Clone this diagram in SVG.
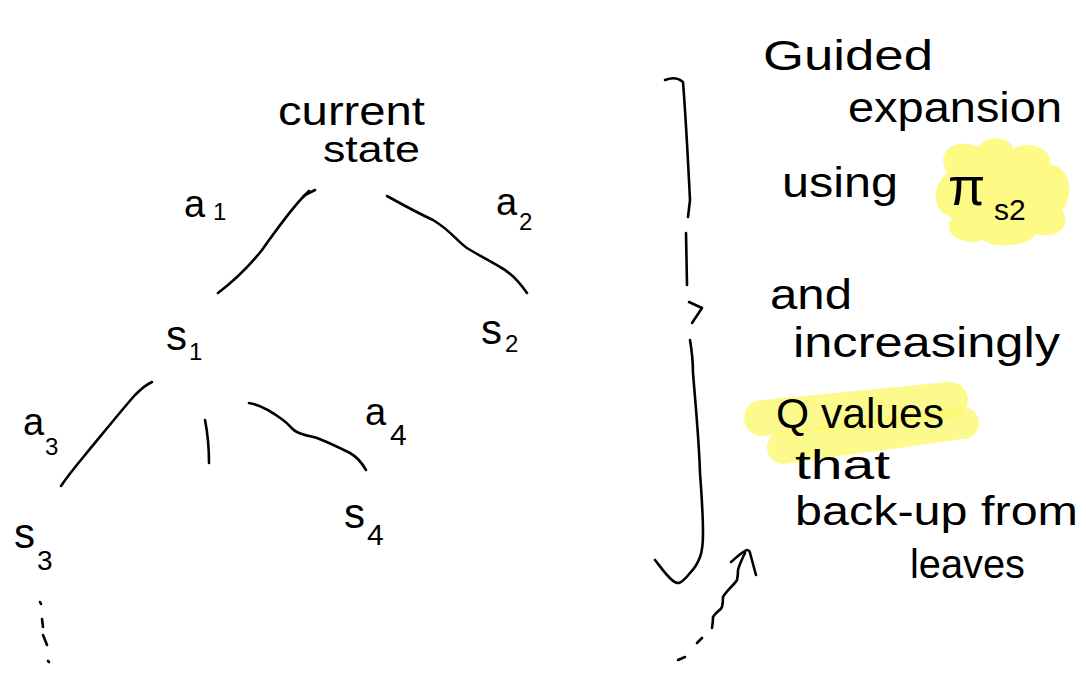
<svg xmlns="http://www.w3.org/2000/svg" width="1086" height="677" viewBox="0 0 1086 677">
  <style>
    .ink { fill: none; stroke: #000; stroke-width: 2.6; stroke-linecap: round; stroke-linejoin: round; }
    .t { font-family: "Liberation Sans", "Open Sans", sans-serif; fill: #000; font-weight: 400; }
    .big { font-size: 42px; }
    .lbl { font-size: 38px; }
    .sub { font-size: 24px; }
    .hl { fill: none; stroke: #fdf970; stroke-opacity: 0.8; stroke-linecap: round; }
  </style>
  <rect width="1086" height="677" fill="#fff"/>

  <!-- highlights behind the notes -->
  <g id="highlights">
    <path d="M948,172 C934,156 952,136 978,147 C988,134 1010,136 1013,149 C1027,141 1052,146 1050,164 C1072,168 1074,196 1062,210 C1073,226 1057,240 1036,234 C1028,247 994,249 983,240 C962,247 940,233 952,218 C932,211 930,188 948,172 Z" fill="#fdf970" fill-opacity="0.85"/>
    <path class="hl" d="M762,418 L950,400" stroke-width="36"/>
    <path class="hl" d="M783,448 L963,423" stroke-width="32"/>
  </g>

  <!-- tree edges and annotation strokes -->
  <g id="connectors">
    <path class="ink" d="M218,293 C235,280 250,265 262,250 C275,232 290,210 305,195 L315,190"/>
    <path class="ink" d="M303,197 L309,191"/>
    <path class="ink" d="M387,196 C405,206 420,214 433,220 C450,230 458,242 467,248 C480,256 492,262 500,267 C510,272 518,280 527,293"/>
    <path class="ink" d="M152,382 C145,385 140,390 135,395 C120,412 100,437 85,455 C75,467 67,477 61,486"/>
    <path class="ink" d="M205,420 C208,435 209,450 209,463"/>
    <path class="ink" d="M249,403 C262,405 275,414 283,420 C290,425 292,430 297,432 C305,436 312,436 317,438 C330,443 340,448 350,453 C357,457 362,463 366,470"/>
    <!-- dotted continuation below s3 -->
    <path class="ink" d="M40,602 L41,604"/>
    <path class="ink" d="M42,619 L43,627"/>
    <path class="ink" d="M43,635 L47,645"/>
    <path class="ink" d="M48,661 L49,662"/>
    <!-- bracket with downward arrow -->
    <path class="ink" d="M665,80 C670,78 677,77 683,82 C686,120 688,160 690,200 L688,217"/>
    <path class="ink" d="M686,233 L687,285"/>
    <path class="ink" d="M689,302 L702,308 L692,323"/>
    <path class="ink" d="M690,340 C692,352 693,362 693,373 C696,410 699,440 700,473 C702,500 703,520 703,533 C703,545 702,552 700,557 C697,565 693,570 690,573 C686,578 682,582 679,583 C676,583 674,582 672,580 C665,574 660,566 655,560"/>
    <!-- dashed wavy arrow pointing up -->
    <path class="ink" d="M678,660 L685,657"/>
    <path class="ink" d="M697,643 L702,638"/>
    <path class="ink" d="M712,628 C713,622 713,618 713,617 C716,612 721,610 722,607 C723,603 723,599 723,597 C727,590 734,585 737,580 C738,576 738,572 738,570 C740,563 743,557 745,553"/>
    <path class="ink" d="M731,562 C738,556 743,551 747,550 C749,550 750,552 750,553 C752,560 754,568 756,575"/>
  </g>

  <g id="node-current-state">
    <text class="t" x="278" y="125" font-size="40" textLength="147" lengthAdjust="spacingAndGlyphs">current</text>
    <text class="t" x="323" y="162" font-size="36" textLength="97" lengthAdjust="spacingAndGlyphs">state</text>
  </g>
  <g id="label-a1">
    <text class="t lbl" x="184" y="217">a</text>
    <text class="t sub" x="213" y="220">1</text>
  </g>
  <g id="label-a2">
    <text class="t lbl" x="496" y="215">a</text>
    <text class="t sub" x="519" y="230">2</text>
  </g>
  <g id="node-s1">
    <text class="t big" x="166" y="350">s</text>
    <text class="t sub" x="189" y="360">1</text>
  </g>
  <g id="node-s2">
    <text class="t big" x="481" y="344">s</text>
    <text class="t sub" x="505" y="352">2</text>
  </g>
  <g id="label-a3">
    <text class="t lbl" x="23" y="435">a</text>
    <text class="t sub" x="45" y="455">3</text>
  </g>
  <g id="label-a4">
    <text class="t lbl" x="365" y="425">a</text>
    <text class="t" x="390" y="445" font-size="30">4</text>
  </g>
  <g id="node-s3">
    <text class="t big" x="14" y="548">s</text>
    <text class="t" x="37" y="570" font-size="28">3</text>
  </g>
  <g id="node-s4">
    <text class="t big" x="344" y="528">s</text>
    <text class="t" x="367" y="545" font-size="30">4</text>
  </g>

  <g id="notes">
    <text class="t big" x="763" y="70" textLength="170" lengthAdjust="spacingAndGlyphs">Guided</text>
    <text class="t big" x="848" y="122" textLength="214" lengthAdjust="spacingAndGlyphs">expansion</text>
    <text class="t big" x="782" y="197" textLength="116" lengthAdjust="spacingAndGlyphs">using</text>
    <text class="t" x="948" y="205" font-size="54">π</text>
    <text class="t" x="994" y="220" font-size="30">s2</text>
    <text class="t big" x="770" y="309" textLength="82" lengthAdjust="spacingAndGlyphs">and</text>
    <text class="t big" x="793" y="357" textLength="267" lengthAdjust="spacingAndGlyphs">increasingly</text>
    <text class="t big" x="776" y="428" textLength="168" lengthAdjust="spacingAndGlyphs">Q values</text>
    <text class="t" x="795" y="479" font-size="40" textLength="95" lengthAdjust="spacingAndGlyphs">that</text>
    <text class="t" x="795" y="525" font-size="40" textLength="283" lengthAdjust="spacingAndGlyphs">back-up from</text>
    <text class="t" x="910" y="578" font-size="40" textLength="115" lengthAdjust="spacingAndGlyphs">leaves</text>
  </g>
</svg>
